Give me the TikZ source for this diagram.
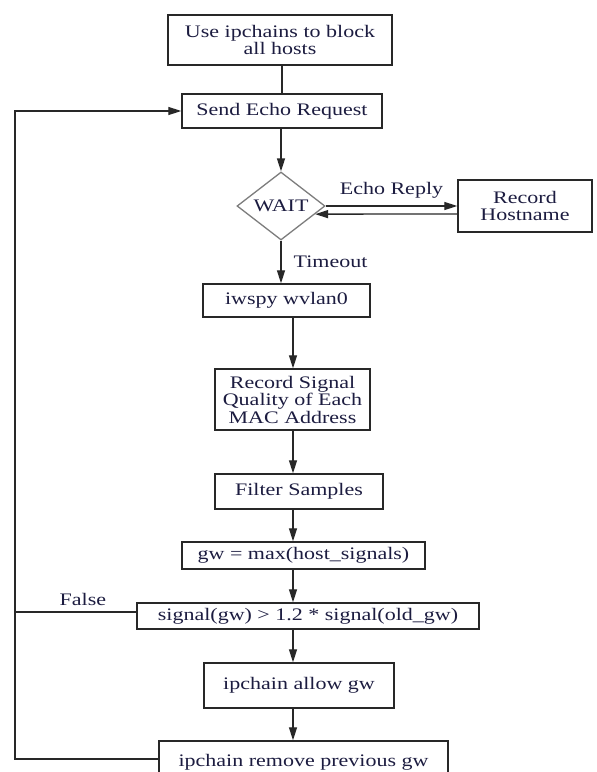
\documentclass[tikz,border=0pt]{standalone}
\usepackage{fontspec}
\setmainfont{Liberation Serif}[FakeStretch=1.25]
\usetikzlibrary{shapes.geometric,arrows.meta,calc}

\definecolor{ink}{RGB}{28,28,64}
\definecolor{edge}{RGB}{40,40,40}
\definecolor{diam}{RGB}{125,125,125}

\begin{document}
\begin{tikzpicture}[x=1pt,y=-1pt,
  every node/.style={font=\fontsize{17.6}{17.5}\selectfont, text=ink},
  box/.style={draw=edge, line width=1.4pt, inner sep=0pt, align=center},
  line/.style={draw=edge, line width=1.3pt},
  arr/.style={line, -{Triangle[length=13pt,width=8pt]}},
  lbl/.style={inner sep=0pt}]

  \useasboundingbox (0,0) rectangle (597,772);
  \fill[white] (0,0) rectangle (597,772);
  \clip (0,0) rectangle (597,772);

  % guide lines for the two vertical flows and the return loop
  \coordinate (ux) at (282,0);
  \coordinate (ax) at (293,0);
  \coordinate (lx) at (15,0);

  % steps
  \node[box, minimum width=224pt, minimum height=50pt] (b1) at (280,40)
    {Use ipchains to block\\all hosts};
  \node[box, minimum width=200pt, minimum height=34pt] (send) at (282,111)
    {Send Echo Request};
  \node[draw=diam, line width=1.3pt, shape=diamond, inner sep=0pt,
        minimum width=88pt, minimum height=68pt] (wait) at (281,206) {WAIT};
  \node[box, minimum width=134pt, minimum height=52pt] (host) at (525,206)
    {Record\\Hostname};
  \node[box, minimum width=167pt, minimum height=33pt] (iwspy) at (286.5,300.5)
    {iwspy wvlan0};
  \node[box, minimum width=155pt, minimum height=61pt] (recsig) at (292.5,399.5)
    {Record Signal\\Quality of Each\\MAC Address};
  \node[box, minimum width=168pt, minimum height=35pt] (filter) at (299,491.5)
    {Filter Samples};
  \node[box, minimum width=243pt, minimum height=27pt] (gw) at (303.5,555.5)
    {gw = max(host\_signals)};
  \node[box, minimum width=342pt, minimum height=26pt] (sig) at (308,616)
    {signal(gw) > 1.2 * signal(old\_gw)};
  \node[box, minimum width=190pt, minimum height=45pt] (allow) at (299,685.5)
    {ipchain allow gw};
  \node[box, minimum width=289pt, minimum height=42pt] (remove) at (303.5,762)
    {ipchain remove previous gw};

  % upper flow
  \draw[line] (b1.south -| ux) -- (send.north -| ux);
  \draw[arr] (wait.north |- send.south) -- (wait.north);
  \draw[arr] (wait.east) -- (host.west)
    node[lbl, midway, above=7pt] {Echo Reply};
  \draw[arr] ([yshift=-8pt]host.west) -- ($(wait.east)!0.235!(wait.south)$);
  \draw[arr] (wait.south) -- (wait.south |- iwspy.north)
    node[lbl, midway, right=12pt] {Timeout};

  % lower flow
  \draw[arr] (iwspy.south -| ax) -- (recsig.north -| ax);
  \draw[arr] (recsig.south -| ax) -- (filter.north -| ax);
  \draw[arr] (filter.south -| ax) -- (gw.north -| ax);
  \draw[arr] (gw.south -| ax) -- (sig.north -| ax);
  \draw[arr] (sig.south -| ax) -- (allow.north -| ax);
  \draw[arr] (allow.south -| ax) -- (remove.north -| ax);

  % return loop
  \draw[line] ([yshift=4pt]sig.west) -- ([yshift=4pt]sig.west -| lx)
    node[lbl, pos=0.44, above=6pt] {False};
  \draw[arr] ([yshift=3pt]remove.west) -- ([yshift=3pt]remove.west -| lx)
    -- (send.west -| lx) -- (send.west);
\end{tikzpicture}
\end{document}
